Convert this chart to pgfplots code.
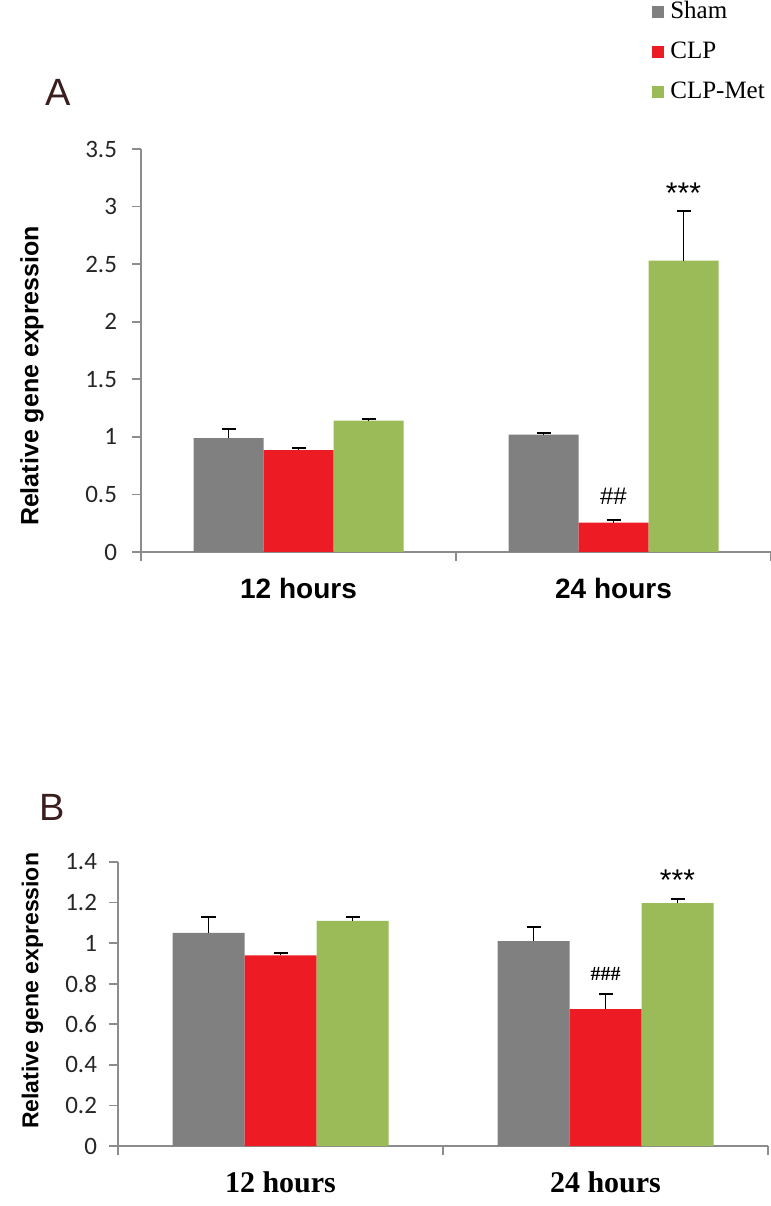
\documentclass[border=0pt]{standalone}
\usepackage{fontspec}
\setmainfont{Liberation Serif}
\newfontfamily\arialf{Liberation Sans}
\newfontfamily\calibrif{Carlito}
\newfontfamily\timesf{Liberation Serif}
\usepackage{pgfplots}
\pgfplotsset{compat=1.18}

\definecolor{shamgray}{HTML}{808080}
\definecolor{clpred}{HTML}{ED1C24}
\definecolor{metgreen}{HTML}{9BBB59}
\definecolor{axisgray}{HTML}{8C8C8C}
\definecolor{panelbrown}{HTML}{3B1E1E}

\pgfplotsset{
  panel/.style={
    scale only axis,
    axis x line=bottom, axis y line=left,
    axis line style={-, axisgray, line width=0.8pt},
    tick style={axisgray, line width=0.8pt},
    tick align=outside, major tick length=4.5pt,
    xmin=-0.5, xmax=1.5, ymin=0,
    xtick={-0.5,0.5,1.5}, xticklabels={},
    /pgf/number format/assume math mode=true,
    yticklabel style={font=\calibrif\fontsize{12.5}{12.5}\selectfont, text=black!85},
    clip=false,
    error bars/y dir=plus, error bars/y explicit,
    error bars/error bar style={black, line width=0.9pt},
    error bars/error mark options={rotate=90, black, mark size=3.5pt, line width=0.9pt},
  },
}

\begin{document}
\begin{tikzpicture}
\useasboundingbox (0,0) rectangle (385.5pt,603pt);

% ---------- panel A ----------
\node[font=\arialf\fontsize{19}{19}\selectfont, text=panelbrown] at (29pt,557pt) {A};
\begin{axis}[panel,
  at={(70.5pt,327pt)}, anchor=south west,
  width=315pt, height=201.5pt,
  ymax=3.5, ytick={0,0.5,1,1.5,2,2.5,3,3.5},
  yticklabel style={xshift=-4pt},
  ylabel={\arialf\bfseries Relative gene expression},
  ylabel style={font=\fontsize{12.5}{13}\selectfont, at={(axis description cs:-0.173,0.437)}, anchor=center},
  ybar, bar width=35pt,
  legend style={at={(axis description cs:0.811,1.3697)}, anchor=north west, draw=none, fill=none,
    inner sep=0pt, row sep=8pt, column sep=3pt,
    font=\timesf\fontsize{12.5}{12.5}\selectfont,
    nodes={inner sep=0pt, text height=9pt, text depth=3pt},
    legend cell align=left},
  legend image code/.code={\fill[#1] (0pt,-3pt) rectangle (6pt,3pt);},
]
\addplot[fill=shamgray, draw=none, bar shift=-35pt] coordinates {(0,0.99) +- (0,0.08) (1,1.02) +- (0,0.015)};
\addplot[fill=clpred, draw=none, bar shift=0pt] coordinates {(0,0.885) +- (0,0.015) (1,0.256) +- (0,0.022)};
\addplot[fill=metgreen, draw=none, bar shift=35pt] coordinates {(0,1.14) +- (0,0.018) (1,2.53) +- (0,0.43)};
\legend{Sham, CLP, CLP-Met}
\node[font=\arialf\bfseries\fontsize{14}{14}\selectfont] at (axis cs:0,0) [yshift=-18pt] {12 hours};
\node[font=\arialf\bfseries\fontsize{14}{14}\selectfont] at (axis cs:1,0) [yshift=-18pt] {24 hours};
\node[font=\arialf\fontsize{12}{12}\selectfont] at (axis cs:1,0.48) {\#\#};
\node[font=\arialf\fontsize{15}{15}\selectfont] at (axis cs:1,3.12) [xshift=35pt] {***};
\end{axis}

% ---------- panel B ----------
\node[font=\arialf\fontsize{19}{19}\selectfont, text=panelbrown] at (26pt,199.5pt) {B};
\begin{axis}[panel,
  at={(59pt,30pt)}, anchor=south west,
  width=325pt, height=142pt,
  ymax=1.4, ytick={0,0.2,0.4,0.6,0.8,1,1.2,1.4},
  yticklabel={\pgfmathprintnumber[fixed,precision=1]{\tick}},
  yticklabel style={xshift=-2.5pt},
  ylabel={\arialf\bfseries Relative gene expression},
  ylabel style={font=\fontsize{11.5}{12}\selectfont, at={(axis description cs:-0.1317,0.546)}, anchor=center},
  ybar, bar width=36pt,
]
\addplot[fill=shamgray, draw=none, bar shift=-36pt] coordinates {(0,1.05) +- (0,0.08) (1,1.01) +- (0,0.07)};
\addplot[fill=clpred, draw=none, bar shift=0pt] coordinates {(0,0.94) +- (0,0.01) (1,0.675) +- (0,0.075)};
\addplot[fill=metgreen, draw=none, bar shift=36pt] coordinates {(0,1.11) +- (0,0.02) (1,1.197) +- (0,0.02)};
\node[font=\timesf\bfseries\fontsize{15}{15}\selectfont] at (axis cs:0,0) [yshift=-18pt] {12 hours};
\node[font=\timesf\bfseries\fontsize{15}{15}\selectfont] at (axis cs:1,0) [yshift=-18pt] {24 hours};
\node[font=\timesf\bfseries\fontsize{10}{10}\selectfont] at (axis cs:1,0.85) {\#\#\#};
\node[font=\arialf\fontsize{15}{15}\selectfont] at (axis cs:1,1.31) [xshift=36pt] {***};
\end{axis}
\end{tikzpicture}
\end{document}
